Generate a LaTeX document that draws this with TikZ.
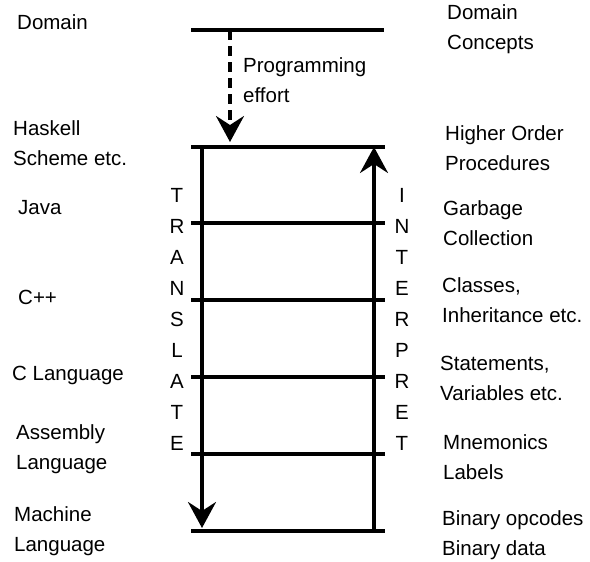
\documentclass[tikz,border=0pt]{standalone}
\usepackage{fontspec}
\setmainfont{Liberation Sans}
\usetikzlibrary{arrows.meta}

\begin{document}
\begin{tikzpicture}[x=1pt,y=-1pt,
    lbl/.style={anchor=west,align=left,inner sep=0pt,font=\fontsize{20.5}{30}\selectfont},
    spell/.style={align=center,inner sep=0pt,font=\fontsize{20.5}{30.9}\selectfont},
    level/.style={line width=4pt},
    flow/.style={line width=3.5pt,-{Stealth[length=26pt,width=28pt,inset=9pt]}}]
  \useasboundingbox (0,0) rectangle (590,562);
  % abstraction levels
  \coordinate (dl) at (191,30);
  \coordinate (dr) at (384,30);
  \draw[level] (dl) -- (dr);
  \foreach \i/\y in {0/147,1/223,2/300,3/377,4/454,5/531}{
    \coordinate (l\i) at (191,\y);
    \coordinate (r\i) at (385,\y);
    \draw[level] (l\i) -- (r\i);
  }
  \draw[flow] ([xshift=11pt]l0) -- ([xshift=11pt,yshift=3pt]l5);
  \draw[flow] ([xshift=-11pt]r5) -- ([xshift=-11pt]r0);
  \draw[flow,dash pattern=on 10pt off 6pt] ([xshift=39pt]dl) -- ([xshift=39pt,yshift=5pt]l0);
  % left side
  \node[lbl] (domain) at (17,22) {Domain};
  \node[lbl] (haskell) at (13,143.5) {Haskell\\Scheme etc.};
  \node[lbl] (java) at (18,208) {Java};
  \node[lbl] (cpp) at (18,297) {C++};
  \node[lbl] (clang) at (12,375) {C Language};
  \node[lbl] (asm) at (16,449) {Assembly\\Language};
  \node[lbl] (machine) at (14,531) {Machine\\Language};
  % right side
  \node[lbl] (concepts) at (447,29) {Domain\\Concepts};
  \node[lbl] (effort) at (243,80) {Programming\\effort};
  \node[lbl] (hop) at (445,148) {Higher Order\\Procedures};
  \node[lbl] (gc) at (443,223) {Garbage\\Collection};
  \node[lbl] (classes) at (442,300) {Classes,\\Inheritance etc.};
  \node[lbl] (stmts) at (440,378) {Statements,\\Variables etc.};
  \node[lbl] (mnem) at (443,457) {Mnemonics\\Labels};
  \node[lbl] (binary) at (442,535) {Binary opcodes\\Binary data};
  % the two directions
  \node[spell] (translate) at (177,319.5) {T\\R\\A\\N\\S\\L\\A\\T\\E};
  \node[spell] (interpret) at (402,319.5) {I\\N\\T\\E\\R\\P\\R\\E\\T};
\end{tikzpicture}
\end{document}
